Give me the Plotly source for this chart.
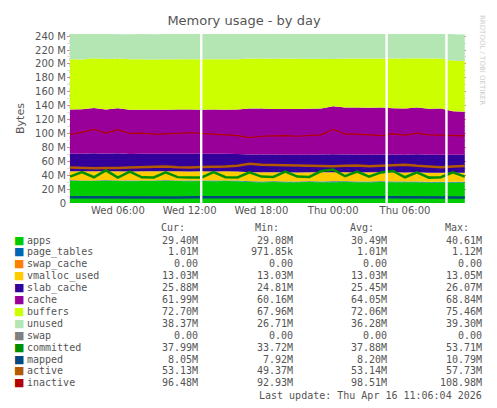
import pandas as pd
import plotly.graph_objects as go

# hourly samples, Wed 02:00 .. Thu 11:00 (values in MB)
times = pd.date_range("2026-04-15 02:00", "2026-04-16 11:00", freq="h")

apps = [31.6, 31.5, 31.5, 31.6, 31.5, 31.4, 31.5, 31.5, 31.6, 31.5, 31.4, 31.5, 31.4, 31.5, 31.3, 30.2, 30.0,
        30.1, 30.0, 30.0, 30.1, 30.0, 30.0, 30.1, 30.0, 30.0, 30.1, 30.0, 29.9, 30.0, 29.6, 29.5, 29.4, 29.4]
page_tables = [1.01, 1.0, 1.02, 1.01, 1.03, 1.0, 1.01, 1.0, 1.01, 1.02, 1.0, 1.01, 1.0, 1.01, 1.0, 1.02, 1.01,
               1.0, 1.01, 1.0, 1.02, 1.01, 1.12, 1.01, 1.0, 1.01, 1.0, 1.01, 1.0, 1.02, 1.01, 1.0, 1.01, 1.01]
swap_cache = [0.0, 0.0, 0.0, 0.0, 0.0, 0.0, 0.0, 0.0, 0.0, 0.0, 0.0, 0.0, 0.0, 0.0, 0.0, 0.0, 0.0,
              0.0, 0.0, 0.0, 0.0, 0.0, 0.0, 0.0, 0.0, 0.0, 0.0, 0.0, 0.0, 0.0, 0.0, 0.0, 0.0, 0.0]
vmalloc_used = [13.03, 13.03, 13.03, 13.04, 13.03, 13.03, 13.03, 13.03, 13.03, 13.03, 13.03, 13.03, 13.03,
                13.03, 13.03, 13.03, 13.03, 13.03, 13.03, 13.03, 13.03, 13.05, 13.03, 13.03, 13.03, 13.03,
                13.03, 13.03, 13.03, 13.03, 13.03, 13.03, 13.03, 13.03]
slab_cache = [25.1, 25.2, 25.9, 25.3, 25.8, 25.2, 25.3, 25.2, 25.3, 25.4, 25.3, 25.2, 25.3, 25.4, 25.3, 25.4,
              25.6, 25.5, 25.4, 25.5, 25.4, 25.6, 26.0, 25.5, 25.6, 25.5, 25.7, 25.8, 25.6, 25.9, 25.7, 25.8,
              25.9, 25.9]
cache = [63.8, 63.9, 65.0, 63.5, 64.8, 63.6, 63.4, 63.5, 63.3, 63.4, 63.6, 63.5, 63.7, 63.3, 63.9, 66.3,
         66.2, 65.7, 65.8, 65.6, 65.9, 66.3, 68.8, 67.6, 67.8, 67.5, 67.6, 66.5, 66.4, 67.5, 66.1, 66.7,
         62.5, 62.0]
buffers = [72.0, 71.8, 71.8, 72.6, 71.6, 72.3, 72.4, 72.0, 72.5, 72.2, 72.4, 72.3, 72.1, 72.6, 72.3, 72.0,
           71.8, 72.1, 72.4, 72.2, 71.9, 71.6, 68.0, 70.4, 70.3, 70.6, 70.5, 71.3, 71.8, 70.8, 72.2, 71.8,
           72.6, 72.7]
unused = [36.3, 36.4, 34.7, 36.0, 34.9, 36.2, 36.3, 36.5, 36.2, 36.3, 36.2, 36.3, 36.6, 36.3, 36.5, 36.6,
          37.0, 36.9, 36.8, 37.0, 37.1, 37.0, 36.6, 36.9, 37.1, 37.3, 37.0, 37.2, 37.3, 36.7, 37.5, 37.2,
          38.2, 38.4]
committed = [38.0, 44.5, 37.0, 47.0, 36.5, 45.0, 37.0, 36.8, 44.0, 37.2, 36.5, 36.8, 44.5, 37.0, 36.8, 44.0,
             38.0, 37.5, 45.0, 38.0, 37.5, 46.0, 48.0, 38.5, 45.0, 38.0, 44.0, 46.0, 37.0, 44.0, 36.5, 37.0,
             44.0, 38.0]
mapped = [8.1, 8.0, 8.2, 8.1, 8.3, 8.0, 8.1, 8.2, 8.1, 8.0, 8.2, 8.1, 8.2, 8.1, 8.0, 8.2, 8.1, 8.2, 8.3,
          8.2, 8.1, 8.2, 8.4, 8.2, 8.1, 8.2, 8.3, 8.1, 8.2, 8.2, 8.1, 8.2, 8.0, 8.05]
active = [51.0, 50.5, 49.8, 50.5, 50.2, 51.0, 51.5, 52.0, 52.5, 51.5, 51.0, 51.8, 52.0, 52.5, 53.5, 56.5,
          55.0, 54.5, 54.0, 53.5, 53.0, 52.5, 53.0, 53.5, 54.0, 53.0, 53.5, 54.5, 55.0, 53.5, 52.5, 51.5,
          52.5, 53.1]
inactive = [98.5, 101.5, 106.0, 100.5, 105.5, 100.0, 100.5, 99.0, 99.5, 100.0, 101.0, 100.0, 99.0, 98.5, 97.0,
            94.0, 96.0, 96.5, 97.0, 96.0, 97.5, 98.0, 106.0, 99.0, 99.0, 98.5, 97.0, 99.5, 97.5, 100.5,
            98.0, 97.5, 97.0, 96.5]

# outages (no data) shown as white gaps
gap_start = ["2026-04-15 12:52", "2026-04-16 04:22", "2026-04-16 09:22"]
gap_end = ["2026-04-15 13:04", "2026-04-16 04:34", "2026-04-16 09:34"]

names = ["apps", "page_tables", "swap_cache", "vmalloc_used", "slab_cache", "cache", "buffers", "unused",
         "swap", "committed", "mapped", "active", "inactive"]
colors = ["#00CC00", "#0066B3", "#FF8000", "#FFCC00", "#330099", "#990099", "#CCFF00", "#B3E6B3",
          "#808080", "#008F00", "#00487D", "#B35A00", "#B30000"]
cur = ["29.40M", "1.01M", "0.00", "13.03M", "25.88M", "61.99M", "72.70M", "38.37M", "0.00", "37.99M",
       "8.05M", "53.13M", "96.48M"]
vmin = ["29.08M", "971.85k", "0.00", "13.03M", "24.81M", "60.16M", "67.96M", "26.71M", "0.00", "33.72M",
        "7.92M", "49.37M", "92.93M"]
avg = ["30.49M", "1.01M", "0.00", "13.03M", "25.45M", "64.05M", "72.06M", "36.28M", "0.00", "37.88M",
       "8.20M", "53.14M", "98.51M"]
vmax = ["40.61M", "1.12M", "0.00", "13.05M", "26.07M", "68.84M", "75.46M", "39.30M", "0.00", "53.71M",
        "10.79M", "57.73M", "108.98M"]

fig = go.Figure()

stacked = [apps, page_tables, swap_cache, vmalloc_used, slab_cache, cache, buffers, unused]
for name, color, vals in zip(names[:8], colors[:8], stacked):
    fig.add_trace(go.Scatter(x=times, y=[v * 1e6 for v in vals], stackgroup="mem", mode="none",
                             fillcolor=color, name=name))

lines = [(committed, 2.5), (mapped, 2.5), (active, 2.5), (inactive, 1.2)]
for (vals, w), name, color in zip(lines, names[9:], colors[9:]):
    fig.add_trace(go.Scatter(x=times, y=[v * 1e6 for v in vals], mode="lines",
                             line=dict(color=color, width=w), name=name))

for s, e in zip(gap_start, gap_end):
    fig.add_vrect(x0=s, x1=e, fillcolor="white", line_width=0, layer="above")

# page body has an 8px margin, so work in screenshot pixels and shift back
OFF = 8
L, R, T, B = 67 - OFF, 466 - OFF, 34 - OFF, 203 - OFF


def px(x):
    return (x - OFF - L) / (R - L)


def py(y):
    return (B - (y - OFF)) / (B - T)


mono = dict(family="DejaVu Sans Mono", size=10, color="#555555")
ann = []
for h, xr in zip(["Cur:", "Min:", "Avg:", "Max:"], [187, 281, 376, 471]):
    ann.append(dict(x=px(xr), y=py(227), text=h, xanchor="right"))
for i, name in enumerate(names):
    y = py(240 + i * 11.9)
    ann.append(dict(x=px(12), y=y, text="■", xanchor="left", font=dict(family="DejaVu Sans", size=11, color=colors[i])))
    ann.append(dict(x=px(25), y=y, text=name, xanchor="left"))
    for col, xr in zip([cur, vmin, avg, vmax], [200, 295, 389, 484]):
        ann.append(dict(x=px(xr), y=y, text=col[i], xanchor="right"))
ann.append(dict(x=px(484), y=py(395), text="Last update: Thu Apr 16 11:06:04 2026", xanchor="right"))
for a in ann:
    a.update(xref="paper", yref="paper", showarrow=False, yanchor="middle")
    a.setdefault("font", mono)
ann.append(dict(x=px(488), y=py(60), xref="paper", yref="paper", text="RRDTOOL / TOBI OETIKER",
                textangle=90, showarrow=False, yanchor="middle",
                font=dict(family="DejaVu Sans", size=7, color="#cccccc")))

tickvals = ["2026-04-15 06:00", "2026-04-15 12:00", "2026-04-15 18:00", "2026-04-16 00:00", "2026-04-16 06:00"]
ticktext = ["Wed 06:00", "Wed 12:00", "Wed 18:00", "Thu 00:00", "Thu 06:00"]

fig.update_layout(
    width=497, height=408, margin=dict(l=L, r=497 - R, t=T, b=408 - B),
    paper_bgcolor="white", plot_bgcolor="white", showlegend=False,
    title=dict(text="Memory usage - by day", x=px(244), xanchor="center", xref="paper",
               y=1 - 12 / 408, yanchor="middle",
               font=dict(family="DejaVu Sans", size=13, color="#555555")),
    font=dict(family="DejaVu Sans", size=10, color="#555555"),
    annotations=ann,
)
fig.update_xaxes(range=["2026-04-15 01:45", "2026-04-16 11:06"], tickvals=tickvals, ticktext=ticktext,
                 showgrid=True, gridcolor="rgba(230,80,80,0.6)", griddash="dot", gridwidth=1,
                 minor=dict(dtick=2 * 3600 * 1000, showgrid=True, gridcolor="#dddddd", griddash="dot"),
                 ticks="", zeroline=False, tickfont=dict(size=10))
fig.update_yaxes(range=[0, 243e6], tickvals=[i * 20e6 for i in range(13)],
                 ticktext=["0"] + [f"{i * 20} M" for i in range(1, 13)],
                 showgrid=True, gridcolor="rgba(230,80,80,0.6)", griddash="dot",
                 minor=dict(dtick=10e6, showgrid=True, gridcolor="#dddddd", griddash="dot"),
                 title=dict(text="Bytes", font=dict(size=11), standoff=8), ticks="", zeroline=False,
                 tickfont=dict(size=10))

fig.write_html("out.html")
